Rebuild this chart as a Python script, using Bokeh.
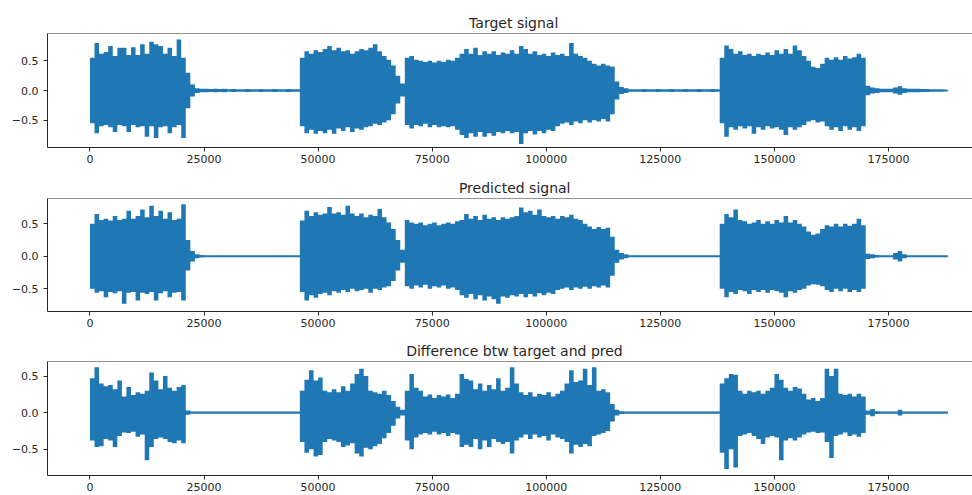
from bokeh.plotting import figure
from bokeh.layouts import column
from bokeh.models import Range1d, FixedTicker, Span, Title
from bokeh.embed import file_html
from bokeh.resources import INLINE

# Envelope of each signal: (max, min) of every block of 1000 samples.
SAMPLE_STEP = 1000

target_upper = [
    0.55, 0.80, 0.62, 0.65, 0.75, 0.58, 0.72, 0.72, 0.60, 0.73,
    0.60, 0.78, 0.62, 0.82, 0.78, 0.75, 0.62, 0.72, 0.58, 0.86,
    0.55, 0.30, 0.10, 0.04, 0.03, 0.03, 0.025, 0.03, 0.025, 0.03,
    0.02, 0.025, 0.02, 0.02, 0.025, 0.02, 0.02, 0.025, 0.02, 0.02,
    0.025, 0.02, 0.02, 0.025, 0.02, 0.02, 0.55, 0.66, 0.62, 0.68,
    0.65, 0.70, 0.75, 0.68, 0.72, 0.66, 0.68, 0.62, 0.66, 0.70,
    0.68, 0.72, 0.78, 0.66, 0.58, 0.52, 0.42, 0.25, 0.12, 0.55,
    0.58, 0.52, 0.50, 0.48, 0.50, 0.47, 0.50, 0.48, 0.52, 0.50,
    0.55, 0.62, 0.70, 0.62, 0.72, 0.60, 0.66, 0.62, 0.66, 0.60,
    0.64, 0.62, 0.68, 0.62, 0.75, 0.70, 0.62, 0.66, 0.60, 0.62,
    0.58, 0.64, 0.60, 0.62, 0.58, 0.80, 0.62, 0.58, 0.55, 0.50,
    0.45, 0.42, 0.45, 0.42, 0.40, 0.15, 0.06, 0.04, 0.02, 0.02,
    0.02, 0.025, 0.02, 0.02, 0.025, 0.02, 0.02, 0.025, 0.02, 0.02,
    0.025, 0.02, 0.02, 0.025, 0.02, 0.02, 0.025, 0.02, 0.55, 0.76,
    0.70, 0.62, 0.66, 0.60, 0.62, 0.58, 0.62, 0.60, 0.64, 0.60,
    0.68, 0.62, 0.70, 0.62, 0.76, 0.68, 0.58, 0.50, 0.40, 0.38,
    0.45, 0.55, 0.52, 0.56, 0.52, 0.58, 0.54, 0.56, 0.62, 0.55,
    0.08, 0.05, 0.04, 0.03, 0.03, 0.03, 0.05, 0.07, 0.04, 0.03,
    0.03, 0.03, 0.025, 0.025, 0.02, 0.02, 0.02, 0.015,
]
target_lower = [
    -0.55, -0.72, -0.60, -0.58, -0.62, -0.70, -0.58, -0.60, -0.70, -0.58,
    -0.62, -0.60, -0.78, -0.60, -0.80, -0.62, -0.60, -0.72, -0.62, -0.58,
    -0.80, -0.30, -0.10, -0.04, -0.03, -0.03, -0.025, -0.03, -0.025, -0.03,
    -0.02, -0.025, -0.02, -0.02, -0.025, -0.02, -0.02, -0.025, -0.02, -0.02,
    -0.025, -0.02, -0.02, -0.025, -0.02, -0.02, -0.60, -0.72, -0.66, -0.73,
    -0.68, -0.72, -0.66, -0.73, -0.64, -0.68, -0.62, -0.70, -0.64, -0.66,
    -0.62, -0.60, -0.56, -0.58, -0.54, -0.50, -0.40, -0.22, -0.10, -0.58,
    -0.64, -0.58, -0.60, -0.56, -0.62, -0.58, -0.62, -0.60, -0.62, -0.60,
    -0.66, -0.75, -0.80, -0.72, -0.78, -0.70, -0.78, -0.72, -0.76, -0.70,
    -0.72, -0.68, -0.72, -0.70, -0.90, -0.72, -0.68, -0.74, -0.68, -0.72,
    -0.66, -0.68, -0.60, -0.56, -0.54, -0.58, -0.52, -0.55, -0.50, -0.54,
    -0.50, -0.52, -0.48, -0.52, -0.40, -0.15, -0.06, -0.04, -0.02, -0.02,
    -0.02, -0.025, -0.02, -0.02, -0.025, -0.02, -0.02, -0.025, -0.02, -0.02,
    -0.025, -0.02, -0.02, -0.025, -0.02, -0.02, -0.025, -0.02, -0.55, -0.78,
    -0.62, -0.66, -0.60, -0.64, -0.60, -0.73, -0.62, -0.66, -0.60, -0.64,
    -0.62, -0.66, -0.75, -0.62, -0.66, -0.62, -0.58, -0.52, -0.50, -0.54,
    -0.52, -0.60, -0.66, -0.62, -0.68, -0.60, -0.66, -0.62, -0.68, -0.60,
    -0.08, -0.05, -0.04, -0.03, -0.03, -0.03, -0.05, -0.07, -0.04, -0.03,
    -0.03, -0.03, -0.025, -0.025, -0.02, -0.02, -0.02, -0.015,
]

predicted_upper = [
    0.50, 0.65, 0.56, 0.58, 0.55, 0.62, 0.56, 0.58, 0.70, 0.58,
    0.62, 0.72, 0.60, 0.78, 0.62, 0.70, 0.58, 0.68, 0.56, 0.58,
    0.80, 0.25, 0.08, 0.03, 0.02, 0.015, 0.015, 0.015, 0.015, 0.015,
    0.015, 0.015, 0.015, 0.015, 0.015, 0.015, 0.015, 0.015, 0.015, 0.015,
    0.015, 0.015, 0.015, 0.015, 0.015, 0.015, 0.55, 0.70, 0.62, 0.68,
    0.64, 0.66, 0.76, 0.66, 0.68, 0.64, 0.78, 0.66, 0.62, 0.66,
    0.60, 0.64, 0.62, 0.73, 0.60, 0.52, 0.42, 0.25, 0.10, 0.56,
    0.52, 0.50, 0.52, 0.48, 0.50, 0.52, 0.48, 0.50, 0.52, 0.50,
    0.54, 0.56, 0.65, 0.58, 0.62, 0.56, 0.64, 0.58, 0.60, 0.56,
    0.60, 0.58, 0.60, 0.62, 0.75, 0.68, 0.70, 0.64, 0.72, 0.62,
    0.60, 0.62, 0.58, 0.62, 0.60, 0.64, 0.58, 0.56, 0.50, 0.46,
    0.42, 0.45, 0.42, 0.44, 0.30, 0.10, 0.05, 0.03, 0.015, 0.015,
    0.015, 0.015, 0.015, 0.015, 0.015, 0.015, 0.015, 0.015, 0.015, 0.015,
    0.015, 0.015, 0.015, 0.015, 0.015, 0.015, 0.015, 0.015, 0.50, 0.65,
    0.60, 0.72, 0.56, 0.54, 0.50, 0.52, 0.56, 0.50, 0.54, 0.50,
    0.56, 0.52, 0.62, 0.52, 0.56, 0.50, 0.46, 0.38, 0.33, 0.35,
    0.42, 0.48, 0.46, 0.50, 0.46, 0.50, 0.47, 0.50, 0.58, 0.48,
    0.04, 0.03, 0.02, 0.015, 0.015, 0.015, 0.05, 0.08, 0.03, 0.015,
    0.015, 0.015, 0.015, 0.015, 0.015, 0.015, 0.015, 0.015,
]
predicted_lower = [
    -0.50, -0.56, -0.54, -0.63, -0.55, -0.57, -0.54, -0.73, -0.56, -0.55,
    -0.68, -0.56, -0.58, -0.55, -0.68, -0.57, -0.54, -0.63, -0.56, -0.55,
    -0.68, -0.22, -0.08, -0.03, -0.02, -0.015, -0.015, -0.015, -0.015, -0.015,
    -0.015, -0.015, -0.015, -0.015, -0.015, -0.015, -0.015, -0.015, -0.015, -0.015,
    -0.015, -0.015, -0.015, -0.015, -0.015, -0.015, -0.55, -0.68, -0.60, -0.64,
    -0.58, -0.56, -0.60, -0.54, -0.56, -0.52, -0.55, -0.50, -0.54, -0.52,
    -0.50, -0.56, -0.50, -0.52, -0.48, -0.46, -0.38, -0.22, -0.10, -0.46,
    -0.50, -0.45, -0.48, -0.44, -0.50, -0.46, -0.48, -0.45, -0.50, -0.48,
    -0.52, -0.60, -0.64, -0.58, -0.66, -0.60, -0.68, -0.62, -0.66, -0.73,
    -0.62, -0.64, -0.60, -0.62, -0.58, -0.63, -0.58, -0.62, -0.57, -0.60,
    -0.56, -0.58, -0.52, -0.50, -0.48, -0.52, -0.48, -0.50, -0.47, -0.50,
    -0.46, -0.48, -0.45, -0.48, -0.30, -0.10, -0.05, -0.03, -0.015, -0.015,
    -0.015, -0.015, -0.015, -0.015, -0.015, -0.015, -0.015, -0.015, -0.015, -0.015,
    -0.015, -0.015, -0.015, -0.015, -0.015, -0.015, -0.015, -0.015, -0.50, -0.63,
    -0.55, -0.58, -0.52, -0.54, -0.58, -0.52, -0.55, -0.52, -0.56, -0.52,
    -0.54, -0.56, -0.63, -0.54, -0.56, -0.52, -0.50, -0.45, -0.43, -0.44,
    -0.46, -0.52, -0.55, -0.50, -0.54, -0.50, -0.55, -0.52, -0.55, -0.50,
    -0.04, -0.03, -0.02, -0.015, -0.015, -0.015, -0.05, -0.08, -0.03, -0.015,
    -0.015, -0.015, -0.015, -0.015, -0.015, -0.015, -0.015, -0.015,
]

difference_upper = [
    0.47, 0.62, 0.40, 0.36, 0.38, 0.32, 0.44, 0.22, 0.35, 0.24,
    0.28, 0.26, 0.30, 0.55, 0.44, 0.32, 0.50, 0.34, 0.30, 0.35,
    0.38, 0.03, 0.015, 0.015, 0.015, 0.015, 0.015, 0.015, 0.015, 0.015,
    0.015, 0.015, 0.015, 0.015, 0.015, 0.015, 0.015, 0.015, 0.015, 0.015,
    0.015, 0.015, 0.015, 0.015, 0.015, 0.015, 0.30, 0.45, 0.58, 0.44,
    0.48, 0.30, 0.28, 0.32, 0.28, 0.36, 0.30, 0.40, 0.53, 0.60,
    0.50, 0.30, 0.28, 0.26, 0.30, 0.24, 0.16, 0.08, 0.04, 0.30,
    0.53, 0.34, 0.30, 0.22, 0.25, 0.20, 0.24, 0.22, 0.25, 0.20,
    0.26, 0.53, 0.46, 0.44, 0.32, 0.40, 0.30, 0.38, 0.32, 0.47,
    0.30, 0.34, 0.62, 0.40, 0.28, 0.24, 0.28, 0.22, 0.26, 0.24,
    0.28, 0.22, 0.26, 0.30, 0.40, 0.58, 0.42, 0.44, 0.60, 0.38,
    0.62, 0.30, 0.32, 0.28, 0.12, 0.04, 0.02, 0.015, 0.015, 0.015,
    0.015, 0.015, 0.015, 0.015, 0.015, 0.015, 0.015, 0.015, 0.015, 0.015,
    0.015, 0.015, 0.015, 0.015, 0.015, 0.015, 0.015, 0.015, 0.40, 0.47,
    0.53, 0.52, 0.30, 0.26, 0.30, 0.28, 0.30, 0.26, 0.30, 0.34,
    0.53, 0.45, 0.34, 0.30, 0.35, 0.33, 0.26, 0.18, 0.20, 0.16,
    0.20, 0.60, 0.50, 0.60, 0.26, 0.24, 0.26, 0.22, 0.26, 0.22,
    0.03, 0.05, 0.02, 0.015, 0.015, 0.015, 0.015, 0.04, 0.015, 0.015,
    0.015, 0.015, 0.015, 0.015, 0.015, 0.015, 0.015, 0.015,
]
difference_lower = [
    -0.38, -0.47, -0.46, -0.36, -0.38, -0.47, -0.32, -0.27, -0.28, -0.26,
    -0.33, -0.30, -0.65, -0.47, -0.36, -0.34, -0.36, -0.40, -0.42, -0.38,
    -0.42, -0.03, -0.015, -0.015, -0.015, -0.015, -0.015, -0.015, -0.015, -0.015,
    -0.015, -0.015, -0.015, -0.015, -0.015, -0.015, -0.015, -0.015, -0.015, -0.015,
    -0.015, -0.015, -0.015, -0.015, -0.015, -0.015, -0.40, -0.55, -0.50, -0.60,
    -0.58, -0.40, -0.36, -0.38, -0.40, -0.47, -0.45, -0.42, -0.56, -0.60,
    -0.48, -0.50, -0.46, -0.43, -0.35, -0.28, -0.18, -0.08, -0.04, -0.38,
    -0.50, -0.34, -0.30, -0.28, -0.30, -0.26, -0.30, -0.28, -0.32, -0.28,
    -0.30, -0.47, -0.44, -0.47, -0.36, -0.50, -0.38, -0.47, -0.36, -0.40,
    -0.43, -0.40, -0.56, -0.38, -0.34, -0.30, -0.36, -0.30, -0.34, -0.32,
    -0.38, -0.30, -0.34, -0.36, -0.40, -0.56, -0.44, -0.47, -0.43, -0.46,
    -0.32, -0.30, -0.28, -0.25, -0.12, -0.04, -0.02, -0.015, -0.015, -0.015,
    -0.015, -0.015, -0.015, -0.015, -0.015, -0.015, -0.015, -0.015, -0.015, -0.015,
    -0.015, -0.015, -0.015, -0.015, -0.015, -0.015, -0.015, -0.015, -0.55, -0.77,
    -0.50, -0.75, -0.32, -0.30, -0.28, -0.32, -0.36, -0.43, -0.34, -0.32,
    -0.34, -0.65, -0.38, -0.35, -0.38, -0.34, -0.30, -0.27, -0.26, -0.28,
    -0.27, -0.40, -0.62, -0.32, -0.30, -0.27, -0.32, -0.30, -0.33, -0.28,
    -0.03, -0.05, -0.02, -0.015, -0.015, -0.015, -0.015, -0.04, -0.015, -0.015,
    -0.015, -0.015, -0.015, -0.015, -0.015, -0.015, -0.015, -0.015,
]

panel_titles = ["Target signal", "Predicted signal", "Difference btw target and pred"]

x_ticks = [0, 25000, 50000, 75000, 100000, 125000, 150000, 175000]
x_tick_labels = ["0", "25000", "50000", "75000", "100000", "125000", "150000", "175000"]
y_ticks = [-0.5, 0.0, 0.5]
y_tick_labels = ["\u22120.5", "0.0", "0.5"]

# Axis limits of each panel
x_start, x_end = -9300, 193400
y_limits = [(-0.96, 0.96), (-0.85, 0.89), (-0.86, 0.70)]

LINE_BLUE = "#1f77b4"
INK = "#262626"
FONT = "DejaVu Sans"
TITLE_PX = 14
# Advance widths (em) of DejaVu Sans, used to centre each title on the
# full axes box, which runs a few pixels past the right edge of the page.
DEJAVU_EM = {
    "T": .611, "a": .613, "r": .411, "g": .635, "e": .615, "t": .392, " ": .318,
    "s": .521, "i": .278, "n": .634, "l": .278, "P": .603, "d": .635, "c": .550,
    "D": .770, "f": .352, "b": .635, "w": .818, "p": .635,
}
FRAME_LEFT = 47
AXES_CENTRE_PX = 514.5


def title_offset(text):
    width = sum(DEJAVU_EM.get(ch, 0.6) for ch in text) * TITLE_PX
    return AXES_CENTRE_PX - FRAME_LEFT - width / 2


def stepped(values):
    """Hold every block value flat across the samples of its block."""
    xs, ys = [], []
    for i, v in enumerate(values):
        xs += [i * SAMPLE_STEP, (i + 1) * SAMPLE_STEP]
        ys += [v, v]
    return xs, ys


series = [
    (target_upper, target_lower),
    (predicted_upper, predicted_lower),
    (difference_upper, difference_lower),
]
heights = [167, 164, 164]
top_borders = [33, 31, 30]

figs = []
for title, (upper, lower), (y0, y1), h, bt in zip(panel_titles, series, y_limits, heights, top_borders):
    p = figure(
        width=972, height=h,
        x_range=Range1d(x_start, x_end), y_range=Range1d(y0, y1),
        output_backend="svg", toolbar_location=None,
        min_border_left=FRAME_LEFT, min_border_right=0,
        min_border_top=bt, min_border_bottom=20,
    )
    p.outline_line_color = None
    p.xgrid.visible = False
    p.ygrid.visible = False
    p.background_fill_color = "white"
    p.border_fill_color = "white"

    p.add_layout(Title(
        text=title, align="left", offset=title_offset(title), standoff=6,
        text_font=FONT, text_font_size=f"{TITLE_PX}px", text_font_style="normal",
        text_color=INK,
    ), "above")

    # waveform envelope, one flat step per block of samples
    xs, top = stepped(upper)
    _, bottom = stepped(lower)
    p.varea(x=xs, y1=bottom, y2=top, fill_color=LINE_BLUE)

    # top spine
    p.add_layout(Span(location=y1, dimension="width", line_color=INK, line_width=1))

    for ax in (p.xaxis[0], p.yaxis[0]):
        ax.axis_line_color = INK
        ax.axis_line_width = 1
        ax.major_tick_line_color = INK
        ax.major_tick_out = 4
        ax.major_tick_in = 0
        ax.minor_tick_line_color = None
        ax.major_label_text_font = FONT
        ax.major_label_text_font_size = "11px"
        ax.major_label_text_color = INK

    p.xaxis.ticker = FixedTicker(ticks=x_ticks)
    p.xaxis.major_label_overrides = dict(zip(x_ticks, x_tick_labels))
    p.xaxis.major_label_standoff = 3
    p.yaxis.ticker = FixedTicker(ticks=y_ticks)
    p.yaxis.major_label_overrides = dict(zip(y_ticks, y_tick_labels))
    p.yaxis.major_label_standoff = 5
    figs.append(p)

layout = column(*figs, spacing=0)
open("out.html", "w").write(file_html(layout, INLINE))
